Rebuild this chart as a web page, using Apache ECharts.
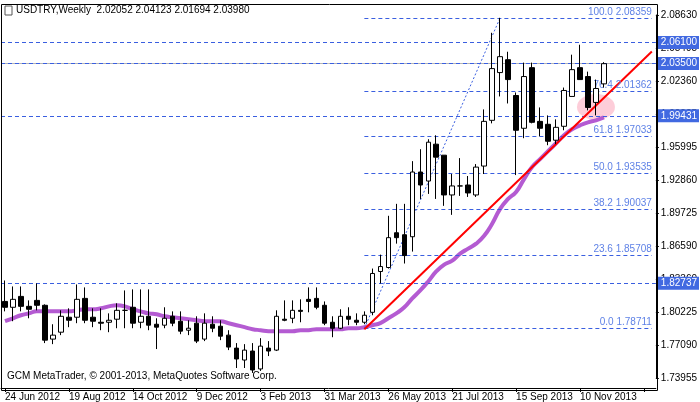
<!DOCTYPE html>
<html><head><meta charset="utf-8">
<script src="https://cdn.jsdelivr.net/npm/echarts@6/dist/echarts.min.js"></script>
<style>html,body{margin:0;padding:0;background:#fff}#c{width:700px;height:402px}</style>
</head><body><div id="c"></div>
<script>
const xTickLabels = ['24 Jun 2012','19 Aug 2012','14 Oct 2012','9 Dec 2012','3 Feb 2013','31 Mar 2013','26 May 2013','21 Jul 2013','15 Sep 2013','10 Nov 2013'];
const yTickLabels = ['1.73955','1.77090','1.80225','1.83360','1.86590','1.89725','1.92860','1.95995','1.99225','2.02360','2.05495','2.08630'];
// [open, close, low, high]
const ohlc = [
[1.8127,1.8071,1.8032,1.8327],[1.8071,1.8147,1.7938,1.8270],[1.8175,1.8080,1.8032,1.8270],[1.8080,1.8052,1.7966,1.8137],
[1.8137,1.8090,1.8042,1.8299],[1.8090,1.7757,1.7729,1.8099],[1.7767,1.7805,1.7719,1.7909],[1.7833,1.7985,1.7805,1.8042],
[1.7976,1.7947,1.7881,1.8061],[1.7976,1.8147,1.7919,1.8289],[1.8156,1.7947,1.7919,1.8261],[1.7976,1.7938,1.7881,1.8061],
[1.7928,1.7919,1.7852,1.8061],[1.7928,1.7947,1.7833,1.8013],[1.7957,1.8042,1.7871,1.8109],[1.8042,1.8042,1.7871,1.8232],
[1.8071,1.7919,1.7871,1.8242],[1.7928,1.7985,1.7871,1.8242],[1.7985,1.7900,1.7852,1.8242],[1.7909,1.7881,1.7672,1.7966],
[1.7900,1.7966,1.7871,1.8071],[1.7985,1.7919,1.7890,1.8032],[1.7938,1.7843,1.7814,1.8032],[1.7852,1.7871,1.7805,1.7947],
[1.7919,1.7748,1.7729,1.7985],[1.7767,1.7919,1.7748,1.8013],[1.7909,1.7871,1.7833,1.7985],[1.7890,1.7795,1.7757,1.7947],
[1.7805,1.7691,1.7662,1.7852],[1.7681,1.7577,1.7491,1.7729],[1.7567,1.7662,1.7491,1.7719],[1.7653,1.7472,1.7444,1.7729],
[1.7482,1.7700,1.7463,1.7776],[1.7681,1.7653,1.7605,1.7748],[1.7662,1.7985,1.7653,1.8042],[1.7957,1.7947,1.7938,1.8137],
[1.7966,1.8042,1.7919,1.8137],[1.8042,1.8032,1.7928,1.8147],[1.8147,1.8127,1.8023,1.8261],[1.8156,1.8071,1.8052,1.8261],
[1.8090,1.7919,1.7900,1.8127],[1.7928,1.7871,1.7785,1.7985],[1.7871,1.7985,1.7862,1.8052],[1.7985,1.7957,1.7900,1.8071],
[1.7947,1.7928,1.7900,1.8013],[1.7928,1.7995,1.7909,1.8032],[1.8023,1.8394,1.7995,1.8441],[1.8413,1.8460,1.8299,1.8574],
[1.8451,1.8736,1.8441,1.8945],[1.8783,1.8736,1.8679,1.9059],[1.8764,1.8565,1.8489,1.9059],[1.8745,1.9363,1.8603,1.9467],
[1.9363,1.9239,1.9106,1.9581],[1.9277,1.9648,1.9154,1.9676],[1.9629,1.9505,1.9106,1.9714],[1.9524,1.9144,1.9040,1.9524],
[1.9144,1.9230,1.8954,1.9344],[1.9230,1.9230,1.9135,1.9496],[1.9239,1.9163,1.9125,1.9325],[1.9144,1.9410,1.9125,1.9439],
[1.9420,1.9847,1.9344,1.9961],[1.9857,2.0351,1.9828,2.0693],[2.0313,2.0465,2.0085,2.0836],[2.0436,2.0246,2.0018,2.0512],
[2.0094,1.9762,1.9334,2.0123],[1.9781,2.0275,1.9686,2.0408],[2.0360,1.9838,1.9828,2.0408],[1.9847,1.9781,1.9705,1.9980],
[1.9819,1.9657,1.9619,1.9904],[1.9667,1.9790,1.9629,1.9866],[1.9800,2.0142,1.9762,2.0170],[2.0085,2.0341,2.0085,2.0484],
[2.0360,2.0246,2.0246,2.0579],[2.0275,1.9980,1.9952,2.0322],[2.0028,2.0161,1.9904,2.0246],[2.02052,2.03980,2.01694,2.04123]
];
const ma = [1.7938,1.7966,1.7995,1.8013,1.8032,1.8032,1.8032,1.8032,1.8032,1.8042,1.8052,1.8052,1.8061,1.8080,1.8090,1.8080,
1.8052,1.8032,1.8013,1.8004,1.7985,1.7976,1.7966,1.7957,1.7947,1.7938,1.7938,1.7938,1.7919,1.7900,1.7881,1.7862,1.7852,
1.7843,1.7843,1.7843,1.7843,1.7852,1.7852,1.7862,1.7862,1.7862,1.7862,1.7871,1.7871,1.7881,1.7900,1.7919,1.7966,1.8013,
1.8071,1.8156,1.8232,1.8318,1.8413,1.8479,1.8517,1.8584,1.8631,1.8679,1.8754,1.8869,1.9011,1.9106,1.9173,1.9296,1.9410,
1.9486,1.9562,1.9638,1.9714,1.9771,1.9809,1.9838,1.9857,1.9885];
const fibLevels = [0,23.6,38.2,50,61.8,76.4,100];
const fibValues = [1.78711,1.85708,1.90037,1.93535,1.97033,2.01362,2.08359];
const hLines = [2.06100,2.03500,1.99431,1.82737];
const lastPrice = 2.03980;
const trend = [[45,1.7862],[81,2.0515]];
const fibAnchor = [[45,1.78711],[62,2.08359]];
const highlight = [[74,1.9985]];
const nSlots = 82;

const cats = Array.from({length:nSlots},(_,i)=>String(i));
const YMIN=1.73955, YMAX=2.08630, YINT=(YMAX-YMIN)/11;
const blue='#3a5fe0', fibText='#5f82e6', F='Liberation Sans';
const chart = echarts.init(document.getElementById('c'));
const fibLines = fibValues.map((v,i)=>[
  {coord:[45,v], label:{show:true,position:'insideEndTop',formatter:fibLevels[i].toFixed(1)+' '+v.toFixed(5),color:fibText,fontFamily:F,fontSize:10,distance:[0,1]}},
  {coord:[81,v]}]);
const fullLines = hLines.map(v=>({yAxis:v,label:{show:true,position:'end',formatter:v.toFixed(5),color:'#fff',backgroundColor:'#4169e1',padding:[2,2,1,3],fontFamily:F,fontSize:10,distance:2}}));
chart.setOption({
  animation:false,
  grid:{left:1,width:656,top:15,height:365},
  xAxis:{type:'category',data:cats,boundaryGap:true,offset:10,
    axisLine:{lineStyle:{color:'#000'}},
    axisTick:{show:true,interval:(i)=>i%8===0,length:4,lineStyle:{color:'#000'},alignWithLabel:true},
    axisLabel:{interval:0,formatter:(v,i)=>i%8===0?xTickLabels[i/8]:'',align:'left',margin:4,fontFamily:F,fontSize:10,color:'#000'},
    splitLine:{show:false}},
  yAxis:{type:'value',position:'right',min:YMIN,max:YMAX,interval:YINT,scale:true,
    axisLine:{show:true,lineStyle:{color:'#000'}},axisTick:{show:true,length:3,lineStyle:{color:'#000'}},
    axisLabel:{formatter:(v)=>yTickLabels[Math.round((v-YMIN)/YINT)],fontFamily:F,fontSize:10,color:'#000',margin:5},
    splitLine:{show:false}},
  series:[
    {type:'line',data:[],markLine:{silent:true,symbol:'none',data:[{yAxis:lastPrice,lineStyle:{color:'#b4b4b4',type:'solid',width:1},label:{show:true,position:'end',formatter:lastPrice.toFixed(5),color:'#fff',backgroundColor:'#000',padding:[2,2,1,3],fontFamily:F,fontSize:10,distance:2}}]},z:1},
    {type:'line',data:[],markLine:{silent:true,symbol:'none',lineStyle:{color:blue,type:[4,3],width:1},data:fullLines.concat(fibLines)},z:2},
    {type:'line',data:[],markLine:{silent:true,symbol:'none',label:{show:false},lineStyle:{color:'#3a5fe0',type:[2,2],width:1,opacity:1},data:[[{coord:fibAnchor[0]},{coord:fibAnchor[1]}]]},z:2},
    {type:'scatter',data:highlight,symbol:'circle',symbolSize:[38,26],itemStyle:{color:'rgba(252,182,200,0.85)'},z:3},
    {type:'line',data:ma,smooth:true,symbol:'none',lineStyle:{color:'#b45bd2',width:4},z:4},
    {type:'candlestick',data:ohlc,barWidth:5,itemStyle:{color:'#fff',color0:'#000',borderColor:'#000',borderColor0:'#000',borderWidth:1},z:5},
    {type:'line',data:[],markLine:{silent:true,symbol:'none',label:{show:false},lineStyle:{color:'#ff0000',type:'solid',width:2},data:[[{coord:trend[0]},{coord:trend[1]}]]},z:6}
  ],
  graphic:[
    {type:'rect',shape:{x:1.5,y:4.5,width:656,height:386},style:{fill:null,stroke:'#000',lineWidth:1},z:100},
    {type:'rect',shape:{x:5,y:6,width:7,height:9},style:{fill:'#fff',stroke:'#555',lineWidth:1},z:100},
    {type:'text',left:16,top:5,style:{text:'USDTRY,Weekly  2.02052 2.04123 2.01694 2.03980',font:'10px "Liberation Sans"',fill:'#000'},z:100},
    {type:'text',left:7,top:371,style:{text:'GCM MetaTrader, © 2001-2013, MetaQuotes Software Corp.',font:'10px "Liberation Sans"',fill:'#000'},z:100}
  ]
});
</script></body></html>
